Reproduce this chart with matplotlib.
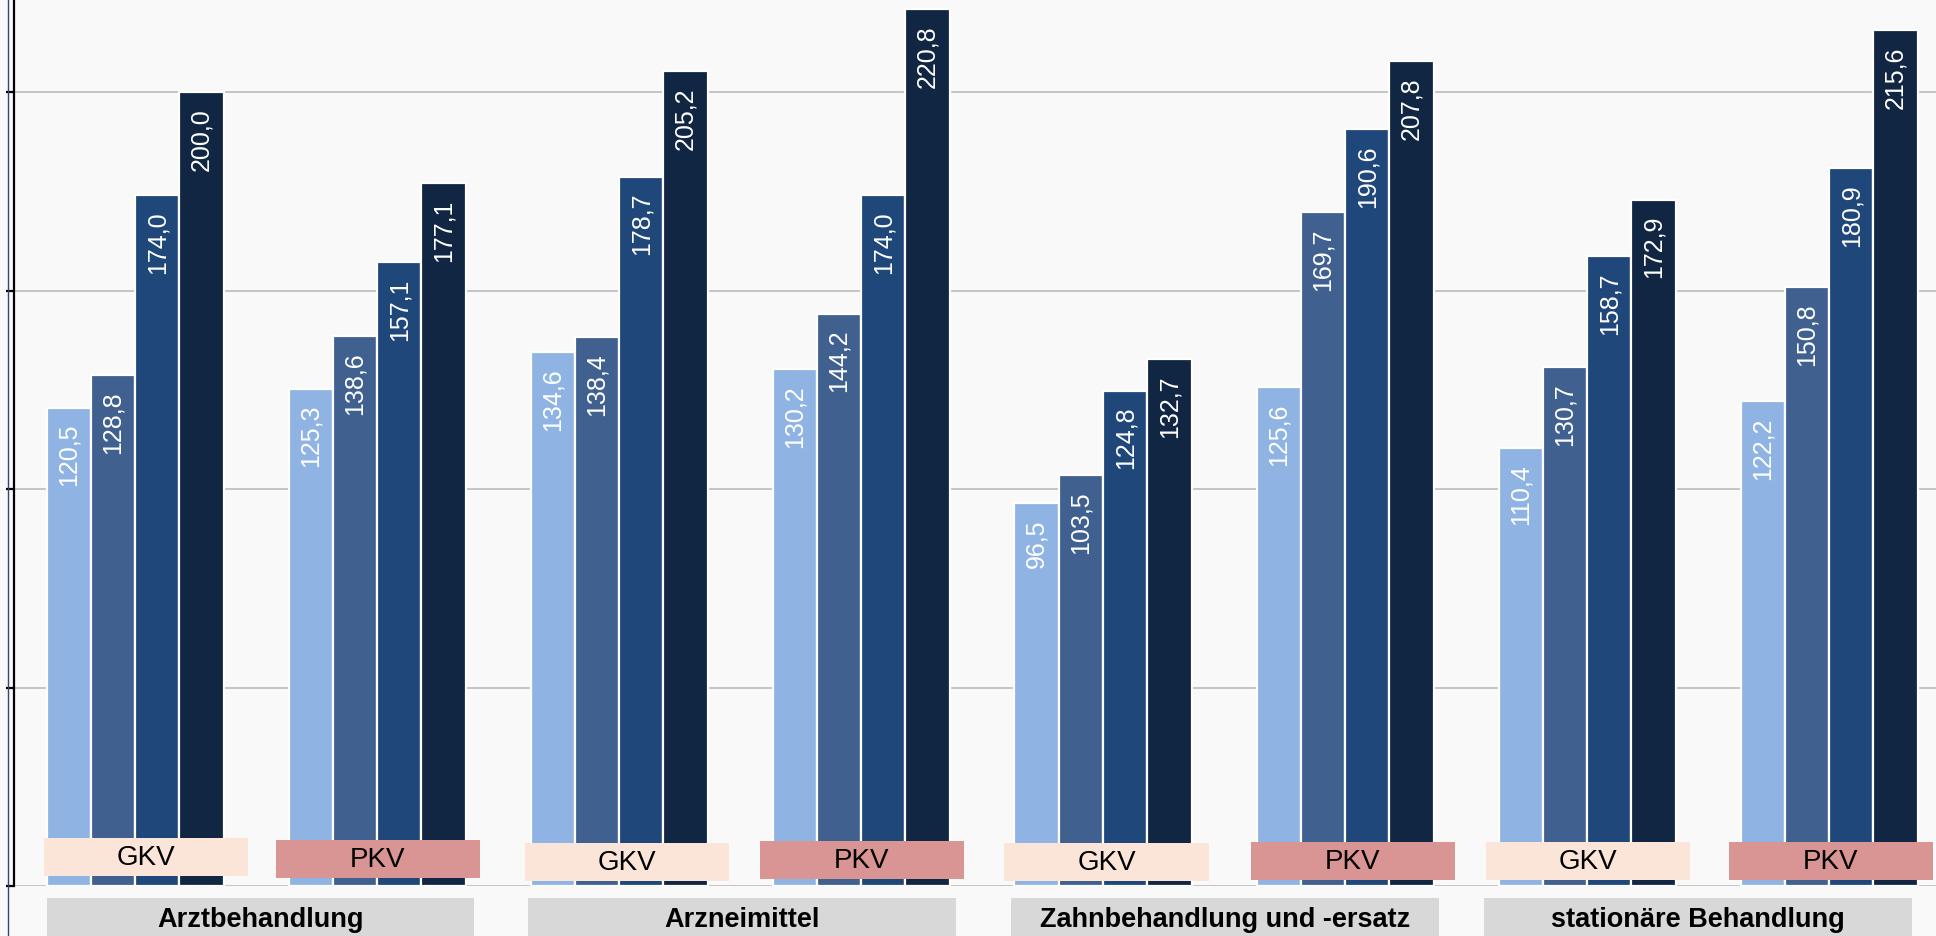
import matplotlib
matplotlib.use("Agg")
import matplotlib.pyplot as plt
from matplotlib.patches import Rectangle
from matplotlib.lines import Line2D

plt.rcParams['font.family'] = ['Liberation Sans', 'DejaVu Sans']

categories = ["Arztbehandlung", "Arzneimittel", "Zahnbehandlung und -ersatz", "stationäre Behandlung"]
insurers = ["GKV", "PKV"]
values = [
    [120.5, 128.8, 174.0, 200.0],  # Arzt GKV
    [125.3, 138.6, 157.1, 177.1],  # Arzt PKV
    [134.6, 138.4, 178.7, 205.2],  # Arznei GKV
    [130.2, 144.2, 174.0, 220.8],  # Arznei PKV
    [96.5, 103.5, 124.8, 132.7],   # Zahn GKV
    [125.6, 169.7, 190.6, 207.8],  # Zahn PKV
    [110.4, 130.7, 158.7, 172.9],  # stationär GKV
    [122.2, 150.8, 180.9, 215.6],  # stationär PKV
]
bar_colors = ["#8FB4E3", "#40608F", "#1F477A", "#112642"]
insurer_colors = {"GKV": "#FBE5D8", "PKV": "#D99594"}

# layout (pixels) -------------------------------------------------
W, H = 1936, 937
base_px = 887
px_per_unit_y = 3.97
left_px = 14
px_per_bar = 44.25
first_center_px = 135
group_spacing_px = 242
label_dx_px = [11, 1, 7.5, 0.5, 3.5, 7.5, 0.5, 1.5]
label_cy_px = [858, 860, 863, 861, 863, 862, 862, 862]
cat_dx_px = [4.5, 2, 1, -10.5]

fig = plt.figure(figsize=(W / 100, H / 100), dpi=100)
fig.patch.set_facecolor("#F9F9F9")

ax = fig.add_axes([left_px / W, (H - base_px) / H, (W - left_px) / W, base_px / H])
ax.set_facecolor("#F9F9F9")
ax.set_ylim(0, base_px / px_per_unit_y)
ax.set_xlim(0, (W - left_px) / px_per_bar)

def px_to_x(p):
    return (p - left_px) / px_per_bar

def py_to_y(p):
    return (base_px - p) / px_per_unit_y

for gi, vals in enumerate(values):
    gc = px_to_x(first_center_px + gi * group_spacing_px)
    for j, v in enumerate(vals):
        x = gc + (j - 1.5)
        ax.bar(x, v, width=1.0, color=bar_colors[j], edgecolor="white",
               linewidth=1.6, zorder=3)
        ax.annotate(f"{v:.1f}".replace(".", ","), xy=(x, v), xytext=(0, -11),
                    textcoords="offset points", rotation=90, ha="center",
                    va="top", color="white", fontsize=18, zorder=4)
    ins = insurers[gi % 2]
    bw = 204 / px_per_bar
    bh = 38 / px_per_unit_y
    cx = px_to_x(first_center_px + gi * group_spacing_px + label_dx_px[gi])
    cy = py_to_y(label_cy_px[gi])
    ax.add_patch(Rectangle((cx - bw / 2, cy - bh / 2), bw, bh,
                           facecolor=insurer_colors[ins], edgecolor="none", zorder=5))
    ax.text(cx, cy, ins, ha="center", va="center", fontsize=20,
            color="black", zorder=6)

for ci, cat in enumerate(categories):
    cc = px_to_x(first_center_px + (2 * ci + 0.5) * group_spacing_px + cat_dx_px[ci])
    cw = 428 / px_per_bar
    top = py_to_y(899)
    hgt = 45 / px_per_unit_y
    ax.add_patch(Rectangle((cc - cw / 2, top - hgt), cw, hgt, facecolor="#D8D8D8",
                           edgecolor="none", clip_on=False, zorder=5))
    ax.text(cc, py_to_y(920), cat, ha="center", va="center", fontsize=19.5,
            fontweight="bold", color="black", clip_on=False, zorder=6)

ax.set_yticks([0, 50, 100, 150, 200])
ax.set_yticklabels([])
ax.set_xticks([])
ax.yaxis.grid(True, color="#C4C4C4", linewidth=1.4, zorder=0)
ax.set_axisbelow(True)
for s in ["top", "right", "bottom"]:
    ax.spines[s].set_visible(False)
ax.spines["left"].set_linewidth(1.6)
ax.spines["left"].set_color("black")
ax.tick_params(axis="y", direction="out", length=6, width=1.6, color="black")

fig.add_artist(Line2D([8 / W, 8 / W], [0, 1], transform=fig.transFigure,
                      color="#2E4A6E", linewidth=1.0))

fig.savefig("out.png", dpi=100, facecolor=fig.get_facecolor())
